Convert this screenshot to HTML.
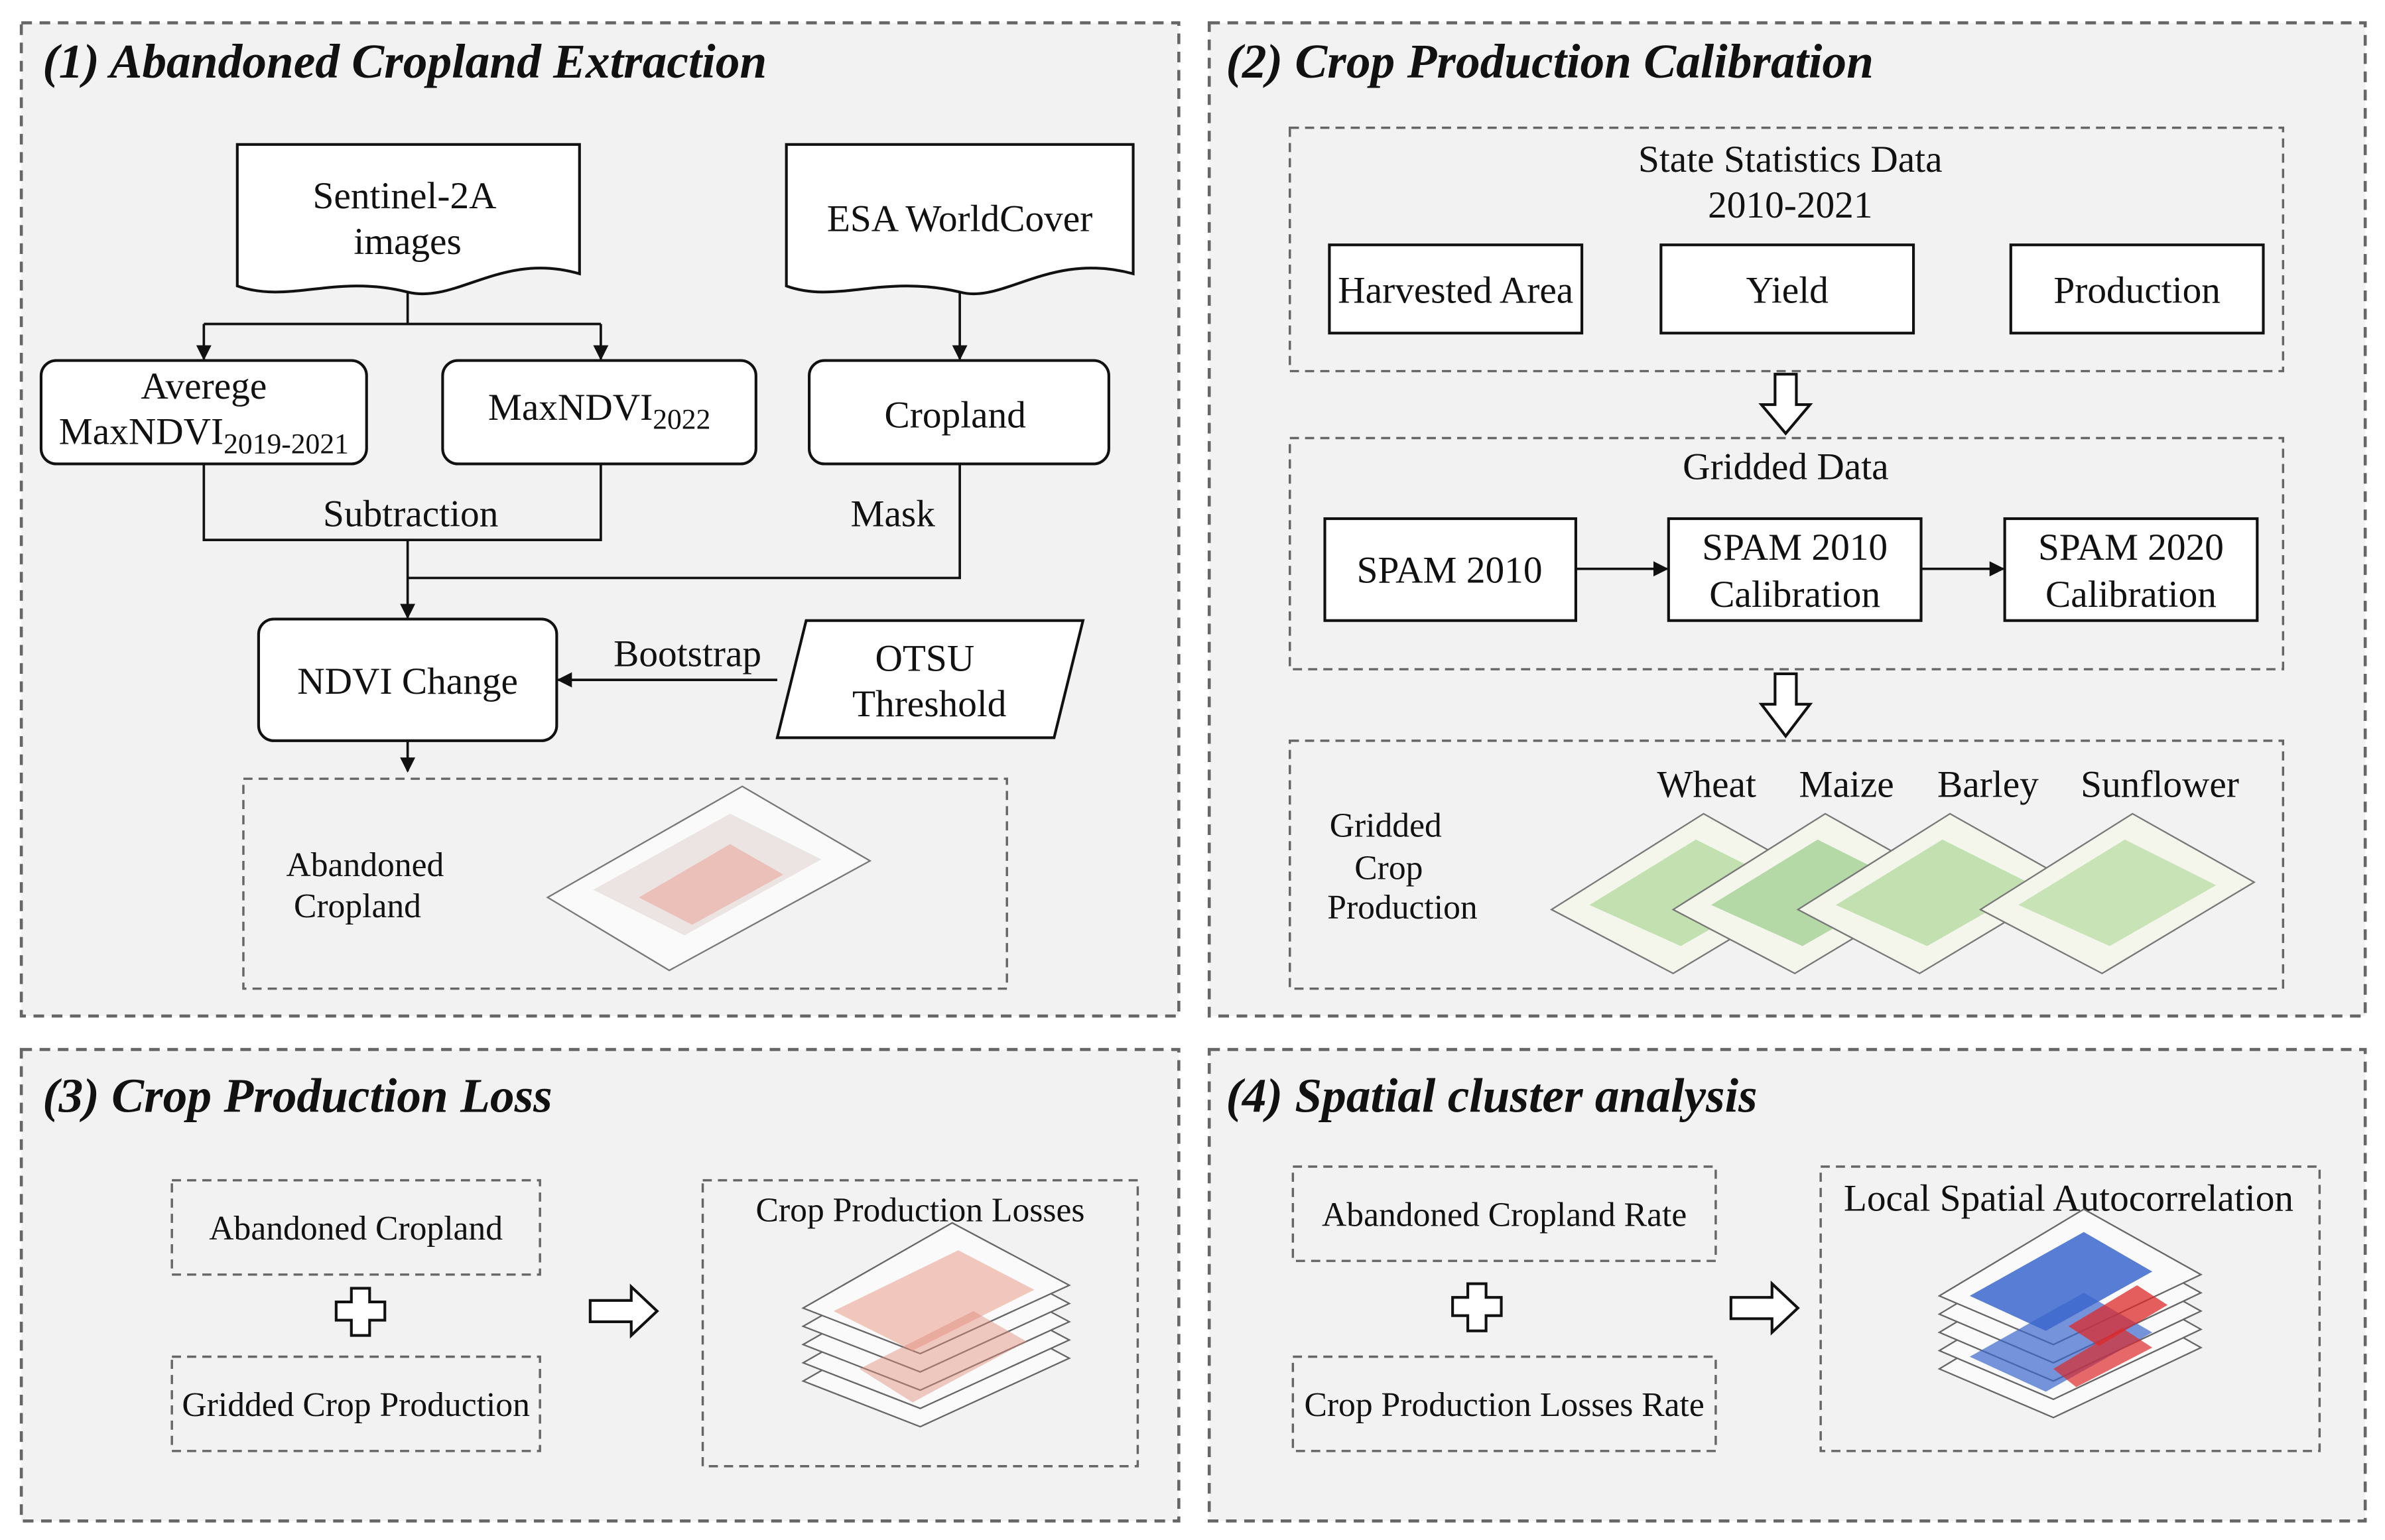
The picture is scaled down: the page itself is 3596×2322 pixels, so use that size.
<!DOCTYPE html>
<html><head><meta charset="utf-8"><style>
html,body{margin:0;padding:0;background:#fff;}
svg{display:block;}
text{font-family:"Liberation Serif",serif;fill:#111;}
.t{font-size:25px;text-anchor:middle;}
.s{font-size:22.5px;}
.h{font-size:32px;font-weight:bold;font-style:italic;}
.p{fill:#f2f2f2;stroke:#666;stroke-width:2;stroke-dasharray:7,5;}
.d{fill:none;stroke:#666;stroke-width:1.5;stroke-dasharray:6,4;}
.b{fill:#fff;stroke:#111;stroke-width:1.8;}
.l{fill:none;stroke:#111;stroke-width:1.6;}
.ha{fill:#fff;stroke:#111;stroke-width:1.8;}
</style></head><body>
<svg width="3596" height="2322" viewBox="0 0 1568 1012.5" xmlns="http://www.w3.org/2000/svg">
<defs><marker id="a" markerWidth="10" markerHeight="10" refX="9" refY="5" orient="auto" markerUnits="userSpaceOnUse"><path d="M0,0 L10,5 L0,10 z" fill="#111"/></marker></defs>
<rect x="0" y="0" width="1568" height="1013" fill="#fff"/>
<rect class="p" x="14" y="15" width="761" height="653"/>
<rect class="p" x="795" y="15" width="760" height="653"/>
<rect class="p" x="14" y="690" width="761" height="310"/>
<rect class="p" x="795" y="690" width="760" height="310"/>
<text class="h" x="28" y="51">(1) Abandoned Cropland Extraction</text>
<text class="h" x="806" y="51">(2) Crop Production Calibration</text>
<text class="h" x="28" y="731">(3) Crop Production Loss</text>
<text class="h" x="806" y="731">(4) Spatial cluster analysis</text>

<!-- panel 1 -->
<path class="b" d="M156,95 H381 V180 C330,165 300,200 268,192 C220,180 190,200 156,188 Z"/>
<text class="t" x="266" y="137">Sentinel-2A</text><text class="t" x="268" y="167">images</text>
<path class="b" d="M517,95 H745 V180 C690,165 660,200 631,192 C580,180 550,200 517,188 Z"/>
<text class="t" x="631" y="152">ESA WorldCover</text>
<path class="l" d="M268,192 V213 M134,213 H395"/>
<line class="l" x1="134" y1="213" x2="134" y2="236" marker-end="url(#a)"/>
<line class="l" x1="395" y1="213" x2="395" y2="236" marker-end="url(#a)"/>
<line class="l" x1="631" y1="192" x2="631" y2="236" marker-end="url(#a)"/>
<rect class="b" x="27" y="237" width="214" height="68" rx="10"/>
<text class="t" x="134" y="262">Averege</text>
<text class="t" x="134" y="292">MaxNDVI<tspan style="font-size:19px" dy="6">2019-2021</tspan></text>
<rect class="b" x="291" y="237" width="206" height="68" rx="10"/>
<text class="t" x="394" y="276">MaxNDVI<tspan style="font-size:19px" dy="6">2022</tspan></text>
<rect class="b" x="532" y="237" width="197" height="68" rx="10"/>
<text class="t" x="628" y="281">Cropland</text>
<path class="l" d="M134,305 V355 H395 V305 M631,305 V380 H268"/>
<line class="l" x1="268" y1="355" x2="268" y2="406" marker-end="url(#a)"/>
<text class="t" x="270" y="346">Subtraction</text>
<text class="t" x="587" y="346">Mask</text>
<rect class="b" x="170" y="407" width="196" height="80" rx="10"/>
<text class="t" x="268" y="456">NDVI Change</text>
<polygon class="b" points="530,408 712,408 693,485 511,485"/>
<text class="t" x="608" y="441">OTSU</text><text class="t" x="611" y="471">Threshold</text>
<line class="l" x1="511" y1="447" x2="367" y2="447" marker-end="url(#a)"/>
<text class="t" x="452" y="438">Bootstrap</text>
<line class="l" x1="268" y1="487" x2="268" y2="507" marker-end="url(#a)"/>
<rect class="d" x="160" y="512" width="502" height="138"/>
<text class="t s" x="240" y="576">Abandoned</text>
<text class="t s" x="235" y="603">Cropland</text>
<polygon points="360,590 488,517 572,566 440,638" fill="#fafafa" stroke="#777"/>
<polygon points="390,585 480,535 540,565 450,615" fill="#ece4e2"/>
<polygon points="420,590 480,555 515,575 455,608" fill="#eab0a6" opacity=".7"/>

<!-- panel 2 -->
<rect class="d" x="848" y="84" width="653" height="160"/>
<text class="t" x="1177" y="113">State Statistics Data</text>
<text class="t" x="1177" y="143">2010-2021</text>
<rect class="b" x="874" y="161" width="166" height="58"/><text class="t" x="957" y="199">Harvested Area</text>
<rect class="b" x="1092" y="161" width="166" height="58"/><text class="t" x="1175" y="199">Yield</text>
<rect class="b" x="1322" y="161" width="166" height="58"/><text class="t" x="1405" y="199">Production</text>
<polygon class="ha" points="1167,246 1181,246 1181,266 1190,266 1174,285 1158,266 1167,266"/>
<rect class="d" x="848" y="288" width="653" height="152"/>
<text class="t" x="1174" y="315">Gridded Data</text>
<rect class="b" x="871" y="341" width="165" height="67"/><text class="t" x="953" y="383">SPAM 2010</text>
<rect class="b" x="1097" y="341" width="166" height="67"/><text class="t" x="1180" y="368">SPAM 2010</text><text class="t" x="1180" y="399">Calibration</text>
<rect class="b" x="1318" y="341" width="166" height="67"/><text class="t" x="1401" y="368">SPAM 2020</text><text class="t" x="1401" y="399">Calibration</text>
<line class="l" x1="1036" y1="374" x2="1096" y2="374" marker-end="url(#a)"/>
<line class="l" x1="1263" y1="374" x2="1317" y2="374" marker-end="url(#a)"/>
<polygon class="ha" points="1167,443 1181,443 1181,463 1190,463 1174,484 1158,463 1167,463"/>
<rect class="d" x="848" y="487" width="653" height="163"/>
<text class="t" x="1122" y="524">Wheat</text><text class="t" x="1214" y="524">Maize</text>
<text class="t" x="1307" y="524">Barley</text><text class="t" x="1420" y="524">Sunflower</text>
<text class="t s" x="911" y="550">Gridded</text>
<text class="t s" x="913" y="578">Crop</text>
<text class="t s" x="922" y="604">Production</text>
<g>
<polygon points="1020,598 1120,535 1200,580 1100,640" fill="#f4f6ec" stroke="#777"/>
<polygon points="1045,595 1115,552 1175,582 1105,622" fill="#b8dca6" opacity=".85"/>
<polygon points="1100,598 1200,535 1280,580 1180,640" fill="#f4f6ec" stroke="#777"/>
<polygon points="1125,595 1195,552 1255,582 1185,622" fill="#a8d49a" opacity=".85"/>
<polygon points="1182,598 1282,535 1362,580 1262,640" fill="#f4f6ec" stroke="#777"/>
<polygon points="1207,595 1277,552 1337,582 1267,622" fill="#b8dca6" opacity=".85"/>
<polygon points="1302,598 1402,535 1482,580 1382,640" fill="#f4f6ec" stroke="#777"/>
<polygon points="1327,595 1397,552 1457,582 1387,622" fill="#c0e0ae" opacity=".85"/>
</g>

<!-- panel 3 -->
<rect class="d" x="113" y="776" width="242" height="62"/><text class="t s" x="234" y="815">Abandoned Cropland</text>
<rect class="d" x="113" y="892" width="242" height="62"/><text class="t s" x="234" y="931">Gridded Crop Production</text>
<polygon class="ha" points="231,847 243,847 243,856 253,856 253,868 243,868 243,878 231,878 231,868 221,868 221,856 231,856"/>
<polygon class="ha" points="388,855 415,855 415,846 432,862 415,878 415,869 388,869"/>
<rect class="d" x="462" y="776" width="286" height="188"/>
<text class="t s" x="605" y="803">Crop Production Losses</text>
<g fill="#fafafa" stroke="#666">
<polygon points="528,908 626,852 703,893 605,938"/>
<polygon points="528,896 626,840 703,881 605,926"/>
<polygon points="528,884 626,828 703,869 605,914"/>
<polygon points="528,872 626,816 703,857 605,902"/>
<polygon points="528,860 626,804 703,845 605,890"/>
</g>
<polygon points="548,862 630,822 680,848 600,888" fill="#eeb4a8" opacity=".75"/>
<polygon points="565,900 640,862 675,882 600,922" fill="#e08a78" opacity=".45"/>

<!-- panel 4 -->
<rect class="d" x="850" y="767" width="278" height="62"/><text class="t s" x="989" y="806">Abandoned Cropland Rate</text>
<rect class="d" x="850" y="892" width="278" height="62"/><text class="t s" x="989" y="931">Crop Production Losses Rate</text>
<polygon class="ha" points="965,844 977,844 977,853 987,853 987,865 977,865 977,875 965,875 965,865 955,865 955,853 965,853"/>
<polygon class="ha" points="1138,853 1165,853 1165,844 1182,860 1165,876 1165,867 1138,867"/>
<rect class="d" x="1197" y="767" width="328" height="187"/>
<text class="t" x="1360" y="796">Local Spatial Autocorrelation</text>
<g fill="#fafafa" stroke="#666">
<polygon points="1275,900 1370,843 1447,886 1350,932"/>
<polygon points="1275,888 1370,831 1447,874 1350,920"/>
<polygon points="1275,876 1370,819 1447,862 1350,908"/>
<polygon points="1275,864 1370,807 1447,850 1350,896"/>
<polygon points="1275,852 1370,795 1447,838 1350,884"/>
</g>
<polygon points="1295,852 1370,810 1415,836 1345,875" fill="#3a66cc" opacity=".85"/>
<polygon points="1295,892 1370,850 1415,876 1345,915" fill="#3a66cc" opacity=".7"/>
<polygon points="1360,872 1405,845 1425,858 1380,885" fill="#dd2a2a" opacity=".75"/>
<polygon points="1350,900 1395,873 1415,886 1365,912" fill="#dd2a2a" opacity=".7"/>
</svg>
</body></html>
